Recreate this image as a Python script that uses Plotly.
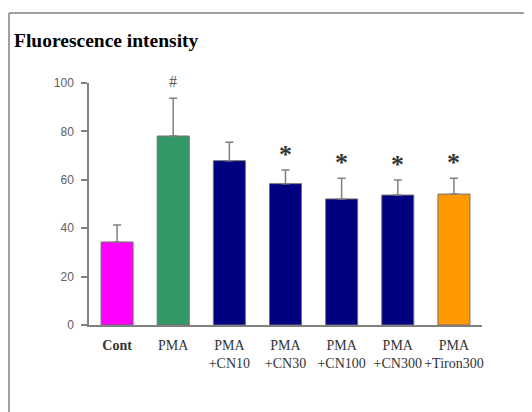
import plotly.graph_objects as go

categories = ["<b>Cont</b>", "PMA", "PMA<br>+CN10", "PMA<br>+CN30", "PMA<br>+CN100", "PMA<br>+CN300", "PMA<br>+Tiron300"]
means = [34.3, 78.1, 67.9, 58.4, 52.1, 53.7, 54.1]
errors = [7.0, 15.6, 7.6, 5.6, 8.5, 6.2, 6.5]
marks = ["", "#", "", "*", "*", "*", "*"]
colors = ["#FF00FF", "#339966", "#000080", "#000080", "#000080", "#000080", "#FF9900"]
y_ticks = [0, 20, 40, 60, 80, 100]

# page has an 8px body margin, so the figure is laid out in shifted coordinates
OFF = 8
W, H = 524, 404
L, T = 89 - OFF, 83 - OFF
R = W - (482 - OFF)
B = H - (325 - OFF)
pw, ph = W - L - R, H - T - B

fig = go.Figure()
fig.add_trace(go.Bar(
    x=categories, y=means,
    marker=dict(color=colors, line=dict(color="#707070", width=1)),
    error_y=dict(type="data", array=errors, arrayminus=[0] * len(errors), symmetric=False,
                 color="#808080", thickness=1.5, width=4),
    width=0.57,
))

for c, m, e, s in zip(categories, means, errors, marks):
    if not s:
        continue
    if s == "#":
        fig.add_annotation(x=c, y=m + e, text="#", showarrow=False, yanchor="bottom", yshift=6,
                           font=dict(family="Liberation Serif", size=16, color="#555555"))
    else:
        fig.add_annotation(x=c, y=m + e, text="<b>*</b>", showarrow=False, yanchor="bottom", yshift=-1,
                           font=dict(family="Liberation Serif", size=26, color="#333333"))

def px_x(p):
    return (p - OFF - L) / pw

def px_y(p):
    return (H - B - (p - OFF)) / ph

# outer frame (top and left lines)
fig.add_shape(type="line", xref="paper", yref="paper", x0=px_x(9), x1=px_x(540), y0=px_y(13), y1=px_y(13),
              line=dict(color="#A0A0A0", width=2))
fig.add_shape(type="line", xref="paper", yref="paper", x0=px_x(9), x1=px_x(9), y0=px_y(13), y1=px_y(420),
              line=dict(color="#A0A0A0", width=2))

fig.update_layout(
    width=W, height=H,
    margin=dict(l=L, r=R, t=T, b=B),
    paper_bgcolor="white", plot_bgcolor="white",
    showlegend=False,
    bargap=0.43,
    title=dict(text="<b>Fluorescence intensity</b>", x=(14 - OFF) / W, xanchor="left", xref="container",
               y=1 - (40 - OFF) / H, yanchor="middle", yref="container",
               font=dict(family="Liberation Serif", size=19.5, color="black")),
    xaxis=dict(showline=True, linecolor="#808080", linewidth=1.5, ticks="", showgrid=False,
               tickangle=0, ticklabelstandoff=6,
               tickfont=dict(family="Liberation Serif", size=14, color="#333333"),
               fixedrange=True),
    yaxis=dict(range=[0, 100], tickvals=y_ticks, showline=True, linecolor="#808080", linewidth=1.5,
               ticks="outside", ticklen=6, tickcolor="#808080", tickwidth=1.5, showgrid=False,
               zeroline=False, ticklabelstandoff=5,
               tickfont=dict(family="Liberation Sans", size=12, color="#606060")),
)

fig.write_html("out.html")
